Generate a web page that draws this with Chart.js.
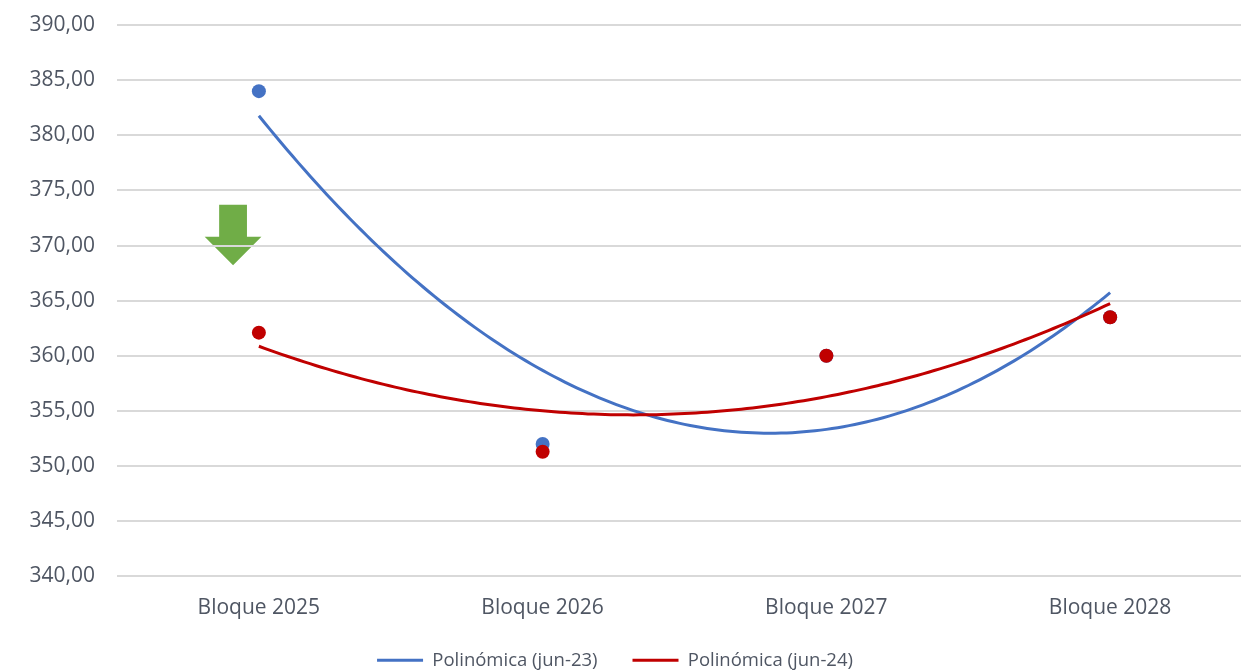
<!DOCTYPE html>
<html>
<head>
<meta charset="utf-8">
<script src="https://cdn.jsdelivr.net/npm/chart.js@4/dist/chart.umd.min.js"></script>
<style>
  html, body { margin: 0; padding: 0; background: #ffffff; overflow: hidden; }
  #wrap { position: absolute; left: 0; top: 0; width: 1259px; height: 703px; }
</style>
</head>
<body>
<div id="wrap"><canvas id="c"></canvas></div>
<script>
// ---- data ----
const categories = ['Bloque 2025', 'Bloque 2026', 'Bloque 2027', 'Bloque 2028'];
const valuesJun23 = [384.0, 352.0, 360.0, 363.5];
const valuesJun24 = [362.1, 351.3, 360.0, 363.5];
const seriesNames = ['Polinómica (jun-23)', 'Polinómica (jun-24)'];
const yTicks = { min: 340, max: 390, step: 5 };
// annotation arrow (in axis units): x centre, top, head start, tip
const arrowSpec = { x: 0.909, top: 373.7, headTop: 370.8, tip: 368.2, shaftHalf: 0.049, headHalf: 0.1 };

const BLUE = '#4472C4', RED = '#C00000', GREEN = '#70AD47', TEXT = '#4F5663', GRID = '#D9D9D9';

// polynomial (order 2) least-squares trendline, as in the spreadsheet
function polyFit2(ys) {
  const xs = ys.map((_, i) => i + 1);
  let S = [0,0,0,0,0], T = [0,0,0];
  xs.forEach((x, i) => {
    for (let k = 0; k < 5; k++) S[k] += Math.pow(x, k);
    for (let k = 0; k < 3; k++) T[k] += ys[i] * Math.pow(x, k);
  });
  const A = [[S[0],S[1],S[2],T[0]],[S[1],S[2],S[3],T[1]],[S[2],S[3],S[4],T[2]]];
  for (let i = 0; i < 3; i++) {
    for (let j = i + 1; j < 3; j++) {
      const f = A[j][i] / A[i][i];
      for (let k = i; k < 4; k++) A[j][k] -= f * A[i][k];
    }
  }
  const c = [0,0,0];
  for (let i = 2; i >= 0; i--) {
    let s = A[i][3];
    for (let k = i + 1; k < 3; k++) s -= A[i][k] * c[k];
    c[i] = s / A[i][i];
  }
  return c;
}
function trend(ys) {
  const c = polyFit2(ys);
  const pts = [];
  for (let x = 1; x <= ys.length + 1e-9; x += 0.02) pts.push({ x: x, y: c[0] + c[1]*x + c[2]*x*x });
  return pts;
}
const pts = ys => ys.map((v, i) => ({ x: i + 1, y: v }));

const arrowPlugin = {
  id: 'arrow',
  afterLayout(chart) {
    // centre the legend under the whole figure (as in the reference)
    const lg = chart.legend;
    const shift = lg.left;
    lg.left -= shift;
    lg.right -= shift;
    lg.top -= 23.5;
    lg.bottom -= 23.5;
  },
  beforeDraw(chart) {
    const xs = chart.scales.x, ys = chart.scales.y, ctx = chart.ctx, a = arrowSpec;
    const px = v => xs.getPixelForValue(v), py = v => ys.getPixelForValue(v);
    ctx.save();
    ctx.fillStyle = GREEN;
    ctx.beginPath();
    ctx.moveTo(px(a.x - a.shaftHalf), py(a.top));
    ctx.lineTo(px(a.x + a.shaftHalf), py(a.top));
    ctx.lineTo(px(a.x + a.shaftHalf), py(a.headTop));
    ctx.lineTo(px(a.x + a.headHalf), py(a.headTop));
    ctx.lineTo(px(a.x), py(a.tip));
    ctx.lineTo(px(a.x - a.headHalf), py(a.headTop));
    ctx.lineTo(px(a.x - a.shaftHalf), py(a.headTop));
    ctx.closePath();
    ctx.fill();
    ctx.restore();
  }
};

new Chart(document.getElementById('c'), {
  type: 'scatter',
  data: {
    datasets: [
      { label: seriesNames[0], data: trend(valuesJun23), showLine: true, borderColor: BLUE, backgroundColor: BLUE,
        borderWidth: 3, pointRadius: 0, tension: 0, order: 4 },
      { label: seriesNames[1], data: trend(valuesJun24), showLine: true, borderColor: RED, backgroundColor: RED,
        borderWidth: 3, pointRadius: 0, tension: 0, order: 3 },
      { label: 'jun-23', data: pts(valuesJun23), pointRadius: 7, pointBackgroundColor: BLUE, pointBorderColor: BLUE,
        pointBorderWidth: 0, order: 2 },
      { label: 'jun-24', data: pts(valuesJun24), pointRadius: 7, pointBackgroundColor: RED, pointBorderColor: RED,
        pointBorderWidth: 0, order: 1 }
    ]
  },
  options: {
    responsive: true,
    maintainAspectRatio: false,
    animation: false,
    devicePixelRatio: 1,
    layout: { padding: { left: 29, top: 25, right: 0, bottom: 0 } },
    plugins: {
      tooltip: { enabled: false },
      legend: {
        position: 'bottom',
        labels: {
          filter: item => item.datasetIndex < 2,
          sort: (a, b) => a.datasetIndex - b.datasetIndex,
          boxWidth: 46, boxHeight: 3,
          color: TEXT,
          font: { family: 'Open Sans', size: 18.5 },
          padding: 35,
          generateLabels: chart => chart.data.datasets.map((d, i) => ({
            text: d.label, fillStyle: d.borderColor, strokeStyle: d.borderColor, lineWidth: 0,
            datasetIndex: i, hidden: false, fontColor: TEXT
          }))
        }
      }
    },
    scales: {
      x: {
        type: 'linear', min: 0.5, max: 4.5,
        afterBuildTicks: axis => { axis.ticks = categories.map((_, i) => ({ value: i + 1 })); },
        afterFit: axis => { axis.paddingLeft = 0; axis.paddingRight = 0; },
        ticks: { callback: v => categories[v - 1], color: TEXT, font: { family: 'Open Sans', size: 21 }, padding: 19, maxRotation: 0, autoSkip: false },
        grid: { display: false, drawTicks: false },
        border: { display: false }
      },
      y: {
        min: yTicks.min, max: yTicks.max,
        afterFit: axis => { axis.width = 88; axis.paddingTop = 0; axis.paddingBottom = 0; },
        ticks: { stepSize: yTicks.step, callback: v => v.toFixed(2).replace('.', ','), color: TEXT,
                 font: { family: 'Open Sans', size: 21 }, padding: 22 },
        grid: { color: GRID, lineWidth: 2, drawTicks: false },
        border: { display: false }
      }
    }
  },
  plugins: [arrowPlugin]
});
</script>
</body>
</html>
